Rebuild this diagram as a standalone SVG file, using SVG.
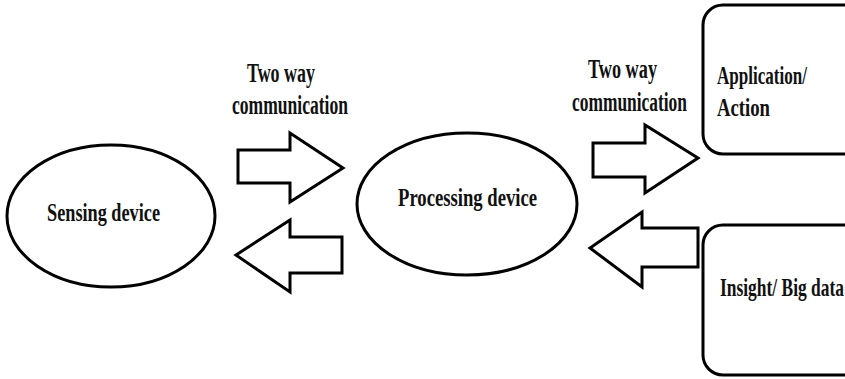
<svg xmlns="http://www.w3.org/2000/svg" width="845" height="379" viewBox="0 0 845 379">
  <style>
    .shape { fill: #ffffff; stroke: #000000; stroke-width: 3; stroke-linejoin: miter; }
    .label { font-family: "Liberation Serif", "Times New Roman", serif; font-weight: bold; font-size: 26px; fill: #111111; }
    .big { font-size: 27px; }
  </style>
  <rect x="0" y="0" width="845" height="379" fill="#ffffff"/>

  <!-- nodes -->
  <g id="sensing-device">
    <ellipse class="shape" cx="111" cy="216" rx="104" ry="71"/>
    <text class="label" x="47" y="221" textLength="113" lengthAdjust="spacingAndGlyphs">Sensing device</text>
  </g>
  <g id="processing-device">
    <ellipse class="shape" cx="467" cy="204" rx="110" ry="71"/>
    <text class="label" x="398" y="206" textLength="139" lengthAdjust="spacingAndGlyphs">Processing device</text>
  </g>
  <g id="application-action">
    <rect class="shape" x="703" y="5" width="170" height="149" rx="20" ry="20"/>
    <text class="label" x="717" y="84" textLength="90" lengthAdjust="spacingAndGlyphs">Application/</text>
    <text class="label" x="717" y="116" textLength="53" lengthAdjust="spacingAndGlyphs">Action</text>
  </g>
  <g id="insight-big-data">
    <rect class="shape" x="703" y="225" width="170" height="150" rx="20" ry="20"/>
    <text class="label" x="720" y="296" textLength="124" lengthAdjust="spacingAndGlyphs">Insight/ Big data</text>
  </g>

  <!-- connectors: block arrows with their labels -->
  <g id="connectors">
    <text class="label big" x="247" y="82" textLength="68" lengthAdjust="spacingAndGlyphs">Two way</text>
    <text class="label big" x="232" y="114" textLength="116" lengthAdjust="spacingAndGlyphs">communication</text>
    <polygon class="shape" points="238,150 290,150 290,133 343,168 290,202 290,183 238,183"/>
    <polygon class="shape" points="342,237 290,237 290,220 236,255 290,292 290,273 342,273"/>

    <text class="label big" x="588" y="78" textLength="69" lengthAdjust="spacingAndGlyphs">Two way</text>
    <text class="label big" x="572" y="111" textLength="115" lengthAdjust="spacingAndGlyphs">communication</text>
    <polygon class="shape" points="593,143 645,143 645,125 698,158 645,193 645,177 593,177"/>
    <polygon class="shape" points="698,228 642,228 642,212 590,248 642,287 642,267 698,267"/>
  </g>
</svg>
